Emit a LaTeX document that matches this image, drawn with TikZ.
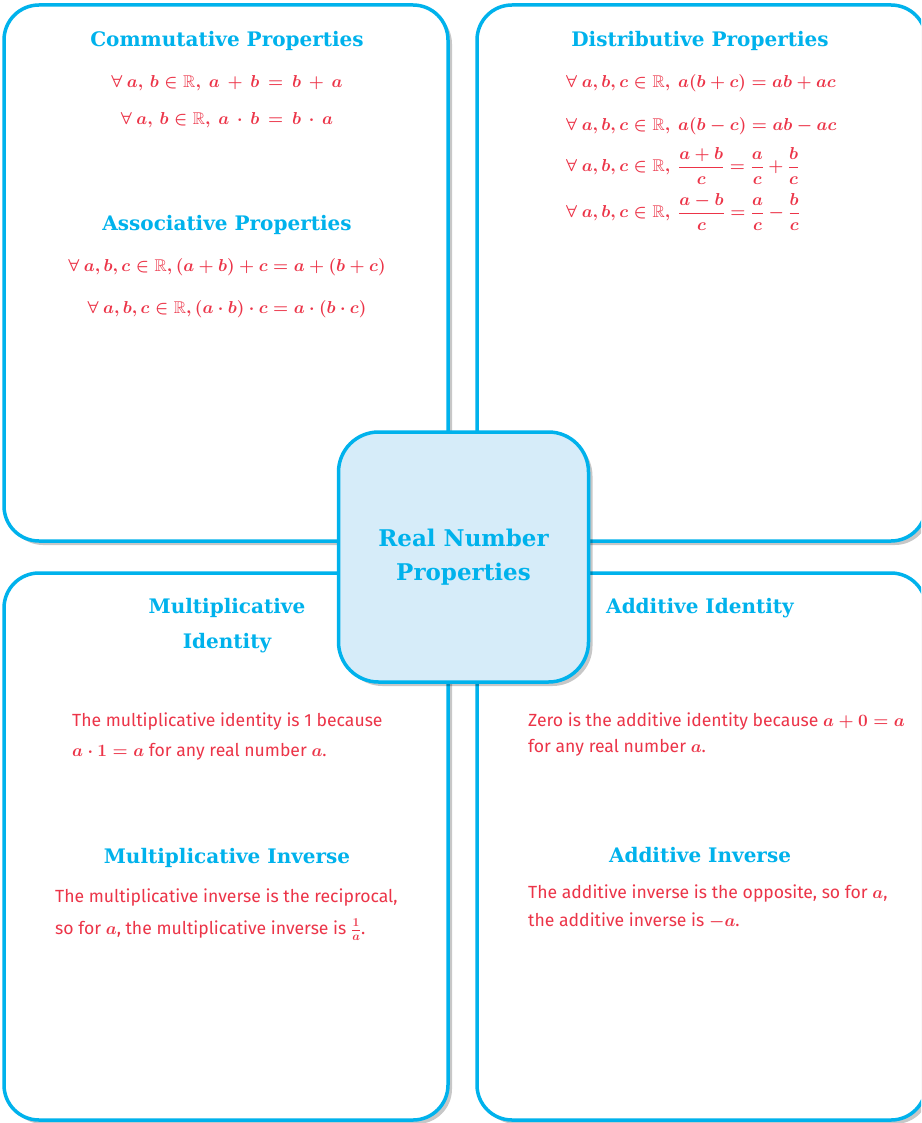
\documentclass[tikz,border=0pt]{standalone}
\usepackage{amsmath}
\usepackage{amssymb}
\usepackage{fontspec}
\setmainfont{Fira Sans}
\newfontfamily\headfont{DejaVu Serif}
\usetikzlibrary{shadows}
\newcommand{\rb}{35pt}
\newcommand{\rh}{40pt}
\newcommand{\widemath}{\medmuskip=4mu\relax\thickmuskip=5mu\relax}
\newcommand{\dfr}[2]{\mbox{\fontsize{16}{16}\selectfont\boldmath$\dfrac{#1}{#2}$}}
\definecolor{cyanrn}{RGB}{0,178,236}
\definecolor{redrn}{RGB}{236,52,72}
\definecolor{hubfill}{RGB}{214,236,249}
\tikzstyle{panel}=[draw=cyanrn, line width=3.5pt, rounded corners=\rb, fill=white,
  drop shadow={shadow xshift=4pt, shadow yshift=-4pt, opacity=.22, fill=black}]
\tikzstyle{hub}=[draw=cyanrn, line width=3.5pt, rounded corners=\rh, fill=hubfill,
  minimum width=250pt, minimum height=250pt, align=center, text=cyanrn,
  font=\headfont\bfseries\fontsize{23}{34}\selectfont,
  drop shadow={shadow xshift=4pt, shadow yshift=-4pt, opacity=.22, fill=black}]
\tikzstyle{title}=[text=cyanrn, font=\headfont\bfseries\fontsize{20}{35}\selectfont, align=center]
\tikzstyle{rule}=[text=redrn, font=\fontsize{17}{20}\selectfont\boldmath\widemath]
\tikzstyle{lrule}=[rule, anchor=west, inner sep=0pt]
\tikzstyle{note}=[text=redrn, font=\fontsize{17.6}{20}\selectfont\boldmath, anchor=west, inner sep=0pt]

\begin{document}
\begin{tikzpicture}[x=1pt, y=-1pt]
\clip (0,0) rectangle (921,1123);
\fill[white] (0,0) rectangle (921,1123);

% the four panels
\draw[panel] (4,5) rectangle (448,541);
\draw[panel] (477,5) rectangle (926,541);
\draw[panel] (4,573) rectangle (448,1120);
\draw[panel] (477,573) rectangle (926,1120);

% centre
\node[hub] (hub) at (463.5,557) {Real Number\\Properties};

% top left
\node[title] (comm) at (227,41) {Commutative Properties};
\node[rule] (comm1) at (227,83) {$\forall\ a,\, b \in \mathbb{R},\ a \,+\, b \,=\, b \,+\, a$};
\node[rule] (comm2) at (227,120) {$\forall\ a,\, b \in \mathbb{R},\ a \,\cdot\, b \,=\, b \,\cdot\, a$};
\node[title] (assoc) at (227,225) {Associative Properties};
\node[rule] (assoc1) at (227,267) {$\forall\ a, b, c \in \mathbb{R}, (a + b) + c = a + (b + c)$};
\node[rule] (assoc2) at (227,309) {$\forall\ a, b, c \in \mathbb{R}, (a \cdot b) \cdot c = a \cdot (b \cdot c)$};

% top right
\node[title] (dist) at (700,41) {Distributive Properties};
\node[lrule] (dist1) at (566,83) {$\forall\ a, b, c \in \mathbb{R},\ a(b + c) = ab + ac$};
\node[lrule] (dist2) at (566,126) {$\forall\ a, b, c \in \mathbb{R},\ a(b - c) = ab - ac$};
\node[lrule] (dist3) at (566,166) {$\forall\ a, b, c \in \mathbb{R},\ \dfr{a + b}{c} = \dfr{a}{c} + \dfr{b}{c}$};
\node[lrule] (dist4) at (566,212) {$\forall\ a, b, c \in \mathbb{R},\ \dfr{a - b}{c} = \dfr{a}{c} - \dfr{b}{c}$};

% bottom left
\node[title] (mulid) at (227,626) {Multiplicative\\Identity};
\node[note] (mulid1) at (72,722) {The multiplicative identity is 1 because};
\node[note] (mulid2) at (72,752) {$a \cdot 1 = a$ for any real number $a$.};
\node[title] (mulinv) at (227,858) {Multiplicative Inverse};
\node[note] (mulinv1) at (55,897) {The multiplicative inverse is the reciprocal,};
\node[note] (mulinv2) at (55,930) {so for $a$, the multiplicative inverse is $\frac{1}{a}$.};

% bottom right
\node[title] (addid) at (700,608) {Additive Identity};
\node[note] (addid1) at (528,722) {Zero is the additive identity because $a + 0 = a$};
\node[note] (addid2) at (528,748) {for any real number $a$.};
\node[title] (addinv) at (700,855) {Additive Inverse};
\node[note] (addinv1) at (528,893) {The additive inverse is the opposite, so for $a$,};
\node[note] (addinv2) at (528,921) {the additive inverse is $-a$.};

\end{tikzpicture}
\end{document}
